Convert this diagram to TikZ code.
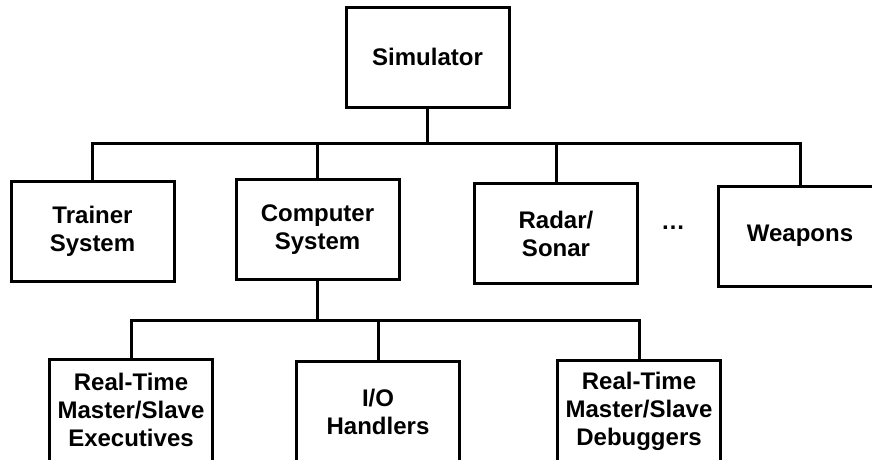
\documentclass[tikz,border=0pt]{standalone}
\usepackage{fontspec}
\setmainfont{Liberation Sans}
\begin{document}
\begin{tikzpicture}[x=1pt,y=-1pt,
  box/.style={draw=black, line width=3pt, rectangle, align=center,
    font=\fontsize{24}{28}\selectfont\bfseries, inner sep=0pt,
    minimum width=163pt, minimum height=100pt},
  tall/.style={minimum height=102pt},
  conn/.style={line width=3pt, draw=black}]
\useasboundingbox (0,0) rectangle (872,459);
\clip (0,0) rectangle (872,459);
\node[box] (sim) at (427.5,57) {Simulator};
\node[box] (tr) at (92.5,231) {Trainer\\System};
\node[box] (cs) at (317.5,229.5) {Computer\\System};
\node[box] (rs) at (556,233.5) {Radar/\\Sonar};
\node[box] (we) at (800,236) {Weapons};
\node[font=\fontsize{24}{28}\selectfont\bfseries] (dots) at (673,228) {\dots};
\node[box,tall] (ex) at (131,410) {Real-Time\\Master/Slave\\Executives};
\node[box,tall] (io) at (378,412) {I/O\\Handlers};
\node[box,tall] (db) at (639,411) {Real-Time\\Master/Slave\\Debuggers};
\coordinate (b1) at (0,143);
\coordinate (b2) at (0,320);
\draw[conn] (sim.south) -- (sim.south |- b1);
\draw[conn] (tr.north) -- (tr.north |- b1) -- (we.north |- b1) -- (we.north);
\draw[conn] (cs.north) -- (cs.north |- b1);
\draw[conn] (rs.north) -- (rs.north |- b1);
\draw[conn] (cs.south) -- (cs.south |- b2);
\draw[conn] (ex.north) -- (ex.north |- b2) -- (db.north |- b2) -- (db.north);
\draw[conn] (io.north) -- (io.north |- b2);
\end{tikzpicture}
\end{document}
